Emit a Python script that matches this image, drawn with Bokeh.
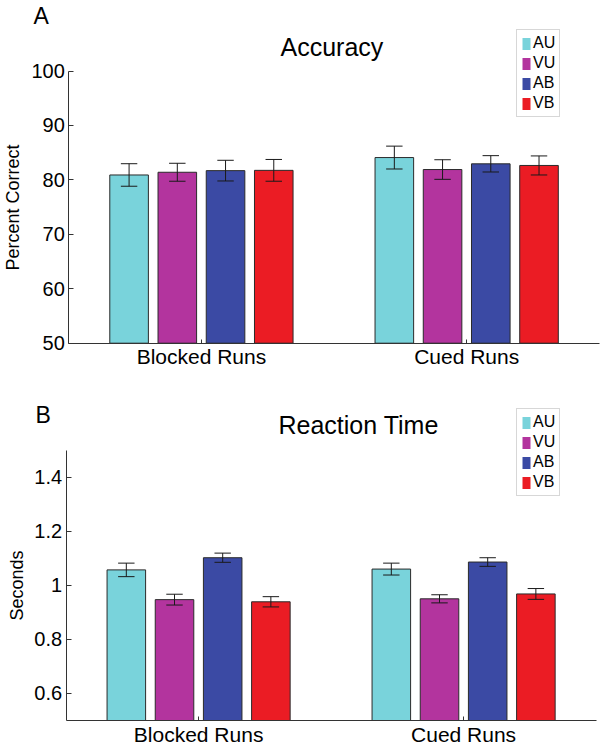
from bokeh.plotting import figure
from bokeh.layouts import column
from bokeh.models import Range1d, FixedTicker, Legend, LegendItem, Label
from bokeh.embed import file_html
from bokeh.resources import INLINE

# ---------------- data ----------------
conditions = ["AU", "VU", "AB", "VB"]
groups = ["Blocked Runs", "Cued Runs"]
colors = ["#79D3DB", "#B3349E", "#3B4AA4", "#EB1C24"]

acc_blocked = [80.9, 81.4, 81.7, 81.75]
acc_blocked_err = [2.07, 1.65, 1.9, 2.0]
acc_cued = [84.1, 81.9, 82.95, 82.65]
acc_cued_err = [2.1, 1.8, 1.5, 1.75]

rt_blocked = [1.057, 0.947, 1.102, 0.939]
rt_blocked_err = [0.025, 0.020, 0.017, 0.019]
rt_cued = [1.060, 0.950, 1.086, 0.968]
rt_cued_err = [0.022, 0.015, 0.016, 0.020]

acc_ticks = [50, 60, 70, 80, 90, 100]
acc_tick_labels = ["50", "60", "70", "80", "90", "100"]
rt_ticks = [0.6, 0.8, 1.0, 1.2, 1.4]
rt_tick_labels = ["0.6", "0.8", "1", "1.2", "1.4"]

FONT = "Liberation Sans"
AXIS_COLOR = "#333333"
FIG_W = 603


def extended_range(lo, hi, p_lo, p_hi, total, vertical=False):
    """Data range so that lo/hi land on the given pixel positions of a
    frame that covers the whole figure."""
    if not vertical:
        scale = (p_hi - p_lo) / (hi - lo)
        return Range1d(lo - p_lo / scale, hi + (total - p_hi) / scale)
    scale = (p_lo - p_hi) / (hi - lo)
    return Range1d(lo - (total - p_lo) / scale, hi + p_hi / scale)


def make_panel(letter, title, ylabel, blocked, blocked_err, cued, cued_err,
               yrange, ticks, tick_labels, height, xpix, ypix,
               title_pos, letter_pos, legend_pos):
    xlo, xhi = 0.5, len(groups) + 0.5
    p = figure(width=FIG_W, height=height, output_backend="svg",
               toolbar_location=None,
               x_range=extended_range(xlo, xhi, xpix[0], xpix[1], FIG_W),
               y_range=extended_range(yrange[0], yrange[1], ypix[0], ypix[1],
                                      height, vertical=True),
               min_border_left=0, min_border_right=0,
               min_border_top=0, min_border_bottom=0)
    p.outline_line_color = None
    p.xgrid.visible = False
    p.ygrid.visible = False
    p.background_fill_color = "white"
    p.border_fill_color = "white"

    n = len(conditions)
    group_x = [i + 1 for i in range(len(groups))]
    groupwidth = min(0.8, n / (n + 1.5))
    step = groupwidth / n
    offsets = [(i - (n - 1) / 2) * step for i in range(n)]
    bar_w = 0.8 * step
    cap = 0.031

    items = []
    for i, cond in enumerate(conditions):
        xs = [gx + offsets[i] for gx in group_x]
        tops = [blocked[i], cued[i]]
        errs = [blocked_err[i], cued_err[i]]
        p.vbar(x=xs, top=tops, bottom=yrange[0], width=bar_w,
               fill_color=colors[i], line_color="#2a2a2a", line_width=1)
        lo = [t - e for t, e in zip(tops, errs)]
        hi = [t + e for t, e in zip(tops, errs)]
        p.segment(x0=xs, y0=lo, x1=xs, y1=hi, line_color="#1a1a1a", line_width=1)
        p.segment(x0=[x - cap for x in xs], y0=lo, x1=[x + cap for x in xs], y1=lo,
                  line_color="#1a1a1a", line_width=1)
        p.segment(x0=[x - cap for x in xs], y0=hi, x1=[x + cap for x in xs], y1=hi,
                  line_color="#1a1a1a", line_width=1)
        # zero-height swatch renderer used only for the legend
        r = p.vbar(x=[group_x[0]], top=[yrange[0]], bottom=yrange[0],
                   width=bar_w, fill_color=colors[i], line_color=None)
        items.append(LegendItem(label=cond, renderers=[r]))

    legend = Legend(items=items, location=legend_pos, orientation="vertical",
                    glyph_width=10, glyph_height=15, label_height=16,
                    label_width=10, spacing=2, padding=4, margin=0,
                    label_standoff=2, label_text_font=FONT,
                    label_text_font_size="16px", label_text_color="black",
                    border_line_color="#b0b0b0", border_line_width=1,
                    background_fill_color="white", background_fill_alpha=1)
    p.add_layout(legend, "center")

    # axes (drawn at fixed data locations, limited by bounds)
    xa = p.xaxis[0]
    xa.fixed_location = yrange[0]
    xa.bounds = (xlo, xhi)
    xa.ticker = FixedTicker(ticks=group_x)
    xa.major_label_overrides = {gx: g for gx, g in zip(group_x, groups)}
    xa.major_tick_in = 4
    xa.major_tick_out = 0
    xa.minor_tick_in = 0
    xa.minor_tick_out = 0
    xa.major_label_standoff = 2
    xa.major_label_text_font = FONT
    xa.major_label_text_font_size = "21px"
    xa.major_label_text_color = "black"
    xa.axis_line_color = AXIS_COLOR
    xa.major_tick_line_color = AXIS_COLOR

    ya = p.yaxis[0]
    ya.fixed_location = xlo
    ya.bounds = yrange
    ya.ticker = FixedTicker(ticks=ticks)
    ya.major_label_overrides = {t: l for t, l in zip(ticks, tick_labels)}
    ya.major_tick_in = 5
    ya.major_tick_out = 0
    ya.minor_tick_in = 0
    ya.minor_tick_out = 0
    ya.major_label_standoff = 4
    ya.major_label_text_font = FONT
    ya.major_label_text_font_size = "20px"
    ya.major_label_text_color = "black"
    ya.axis_label = ylabel
    ya.axis_label_text_font = FONT
    ya.axis_label_text_font_size = "18px"
    ya.axis_label_text_font_style = "normal"
    ya.axis_label_text_color = "black"
    ya.axis_label_standoff = 5
    ya.axis_line_color = AXIS_COLOR
    ya.major_tick_line_color = AXIS_COLOR

    p.add_layout(Label(x=title_pos[0], y=title_pos[1], x_units="screen",
                       y_units="screen", text=title, text_font=FONT,
                       text_font_size="25px", text_color="black",
                       text_baseline="alphabetic", text_align="left"))
    p.add_layout(Label(x=letter_pos[0], y=letter_pos[1], x_units="screen",
                       y_units="screen", text=letter, text_font=FONT,
                       text_font_size="23px", text_color="black",
                       text_baseline="alphabetic", text_align="left"))
    return p


H1, H2 = 378, 372
p1 = make_panel("A", "Accuracy", "Percent Correct",
                acc_blocked, acc_blocked_err, acc_cued, acc_cued_err,
                (50, 100), acc_ticks, acc_tick_labels, H1,
                (68.3, 598.8), (342.7, 70.5),
                (280, H1 - 46), (33, H1 - 15), (516, H1 - 117))
p2 = make_panel("B", "Reaction Time", "Seconds",
                rt_blocked, rt_blocked_err, rt_cued, rt_cued_err,
                (0.5, 1.5), rt_ticks, rt_tick_labels, H2,
                (65.6, 595.6), (342, 71.6),
                (278, H2 - 46), (35, H2 - 36), (516, H2 - 118))

layout = column(p1, p2, spacing=0)
open("out.html", "w").write(file_html(layout, INLINE))
